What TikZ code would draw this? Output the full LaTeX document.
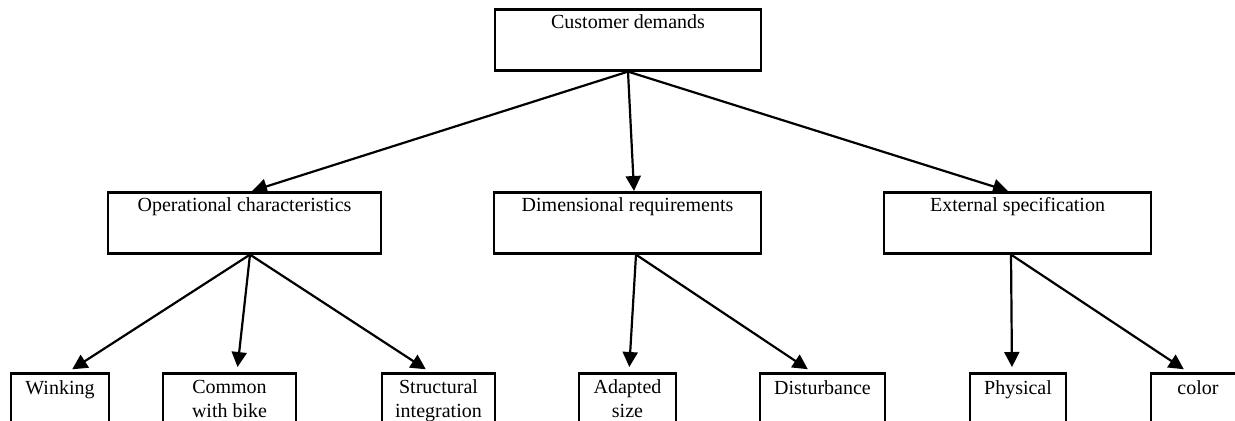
\documentclass[tikz,border=0pt]{standalone}
\usepackage{fontspec}
\setmainfont{Liberation Serif}
\usetikzlibrary{arrows.meta}

\begin{document}
\begin{tikzpicture}[x=0.5pt, y=-0.5pt,
    box/.style={draw, line width=1.3pt, rectangle, anchor=north, inner xsep=2pt, inner ysep=0pt, align=center, text height=#1, text depth=30.5pt-#1},
    box/.default=9.5pt,
    link/.style={line width=1.1pt, -{Triangle[length=7.5pt, width=7.5pt]}}]
    \clip (0,0) rectangle (1235,420);
    % top
    \node[box, minimum width=133pt] (cd) at (628,8) {Customer demands};
    % second row
    \node[box, minimum width=136.5pt] (op) at (244.5,191) {Operational characteristics};
    \node[box, minimum width=133.5pt] (dim) at (627.5,191) {Dimensional requirements};
    \node[box, minimum width=133.5pt] (ext) at (1017.5,191) {External specification};
    % third row (two-line boxes: baseline is the last line)
    \node[box=10.5pt, minimum width=49pt] (wink) at (60,372) {Winking};
    \node[box=22pt, minimum width=66.5pt] (com) at (229.5,372) {Common\\with bike};
    \node[box=22pt, minimum width=56.5pt] (str) at (438.5,372) {Structural\\integration};
    \node[box=22pt, minimum width=48.5pt] (ada) at (627.5,372) {Adapted\\size};
    \node[box=10.5pt, minimum width=62.5pt] (dis) at (822.5,372) {Disturbance};
    \node[box=10.5pt, minimum width=48pt] (phy) at (1018,372) {Physical};
    \node[box=10.5pt, minimum width=47pt] (col) at (1198,372) {color};

    \draw[link] (cd.south) -- ([xshift=3.75pt]op.north);
    \draw[link] (cd.south) -- ([xshift=3.25pt]dim.north);
    \draw[link] (cd.south) -- ([xshift=-4.75pt]ext.north);

    \draw[link, shorten >=2.5pt] ([xshift=2.75pt]op.south) -- ([xshift=4pt]wink.north);
    \draw[link, shorten >=2.5pt] ([xshift=2.75pt]op.south) -- ([xshift=3.75pt]com.north);
    \draw[link, shorten >=2.5pt] ([xshift=2.75pt]op.south) -- ([xshift=-4.25pt]str.north);

    \draw[link, shorten >=2.5pt] ([xshift=4.25pt]dim.south) -- ([xshift=0.75pt]ada.north);
    \draw[link, shorten >=2.5pt] ([xshift=4.25pt]dim.south) -- ([xshift=-5.25pt]dis.north);

    \draw[link, shorten >=2.5pt] ([xshift=-3.25pt]ext.south) -- ([xshift=-3pt]phy.north);
    \draw[link, shorten >=2.5pt] ([xshift=-3.25pt]ext.south) -- ([xshift=-5pt]col.north);
\end{tikzpicture}
\end{document}
